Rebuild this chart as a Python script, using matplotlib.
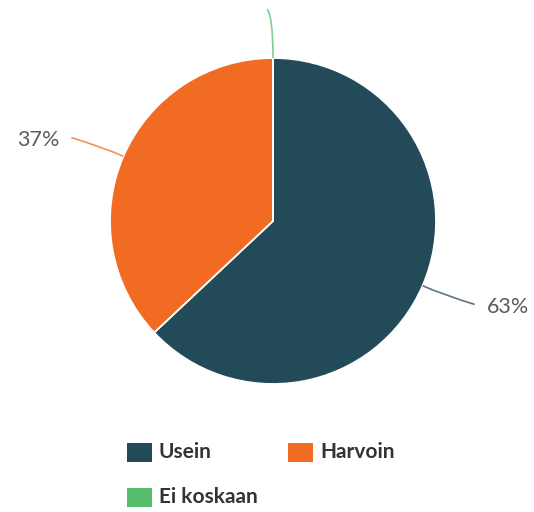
import numpy as np
import matplotlib.pyplot as plt
from matplotlib.path import Path
from matplotlib.patches import PathPatch, Rectangle

# answer shares (percent)
labels = ['Usein', 'Harvoin', 'Ei koskaan']
values = [63, 37, 0]
colors = ['#234a59', '#f26b22', '#55bd6b']

W, H = 534, 512
fig = plt.figure(figsize=(W / 100, H / 100), dpi=100)

# pie centre (273, 221) px, radius 163 px
cx, cy, R = 273, 221, 163
ax = fig.add_axes([(cx - R) / W, (H - cy - R) / H, 2 * R / W, 2 * R / H])
wedges, _ = ax.pie(values, colors=colors, startangle=90, counterclock=False,
                   wedgeprops=dict(edgecolor='white', linewidth=1.3))
ax.set_xlim(-1, 1)
ax.set_ylim(-1, 1)
ax.set_aspect('equal')
ax.axis('off')

# leader lines and percentage labels
for w, v, c in zip(wedges, values, colors):
    th = np.deg2rad((w.theta1 + w.theta2) / 2)
    ct, st = np.cos(th), np.sin(th)
    p0 = np.array([ct, st])
    if v == 0:
        # zero slice: short stem straight out, hooked to the left
        p1 = p0 * 1.26
        p2 = p1 + np.array([-0.037, 0.04])
    else:
        p1 = p0 * 1.15
        d = np.array([ct, 0.7 * st])
        p2 = p1 + 0.19 * d / np.linalg.norm(d)
    path = Path([p0, p1, p2], [Path.MOVETO, Path.CURVE3, Path.CURVE3])
    ax.add_patch(PathPatch(path, fill=False, edgecolor=c, lw=1.2, alpha=0.75,
                           clip_on=False))
    if v > 0:
        side = 1 if ct > 0 else -1
        ax.text(p2[0] + side * 0.075, p2[1] - 0.015, f'{v}%',
                ha='left' if side > 0 else 'right', va='center',
                fontsize=15.5, family='Lato', color='#5c5c5c', clip_on=False)

# legend: two columns, wrapping to a second row
leg_x = [127, 288]
leg_y = [452, 497]
for i, (lab, c) in enumerate(zip(labels, colors)):
    x = leg_x[i % 2]
    y = leg_y[i // 2]
    fig.add_artist(Rectangle((x / W, (H - y - 9.5) / H), 25 / W, 19 / H,
                             transform=fig.transFigure, color=c, lw=0))
    fig.text((x + 32) / W, (H - y) / H, lab, ha='left', va='center',
             fontsize=15, family='Lato', weight='bold', color='#333333')

fig.savefig('out.png', dpi=100)
